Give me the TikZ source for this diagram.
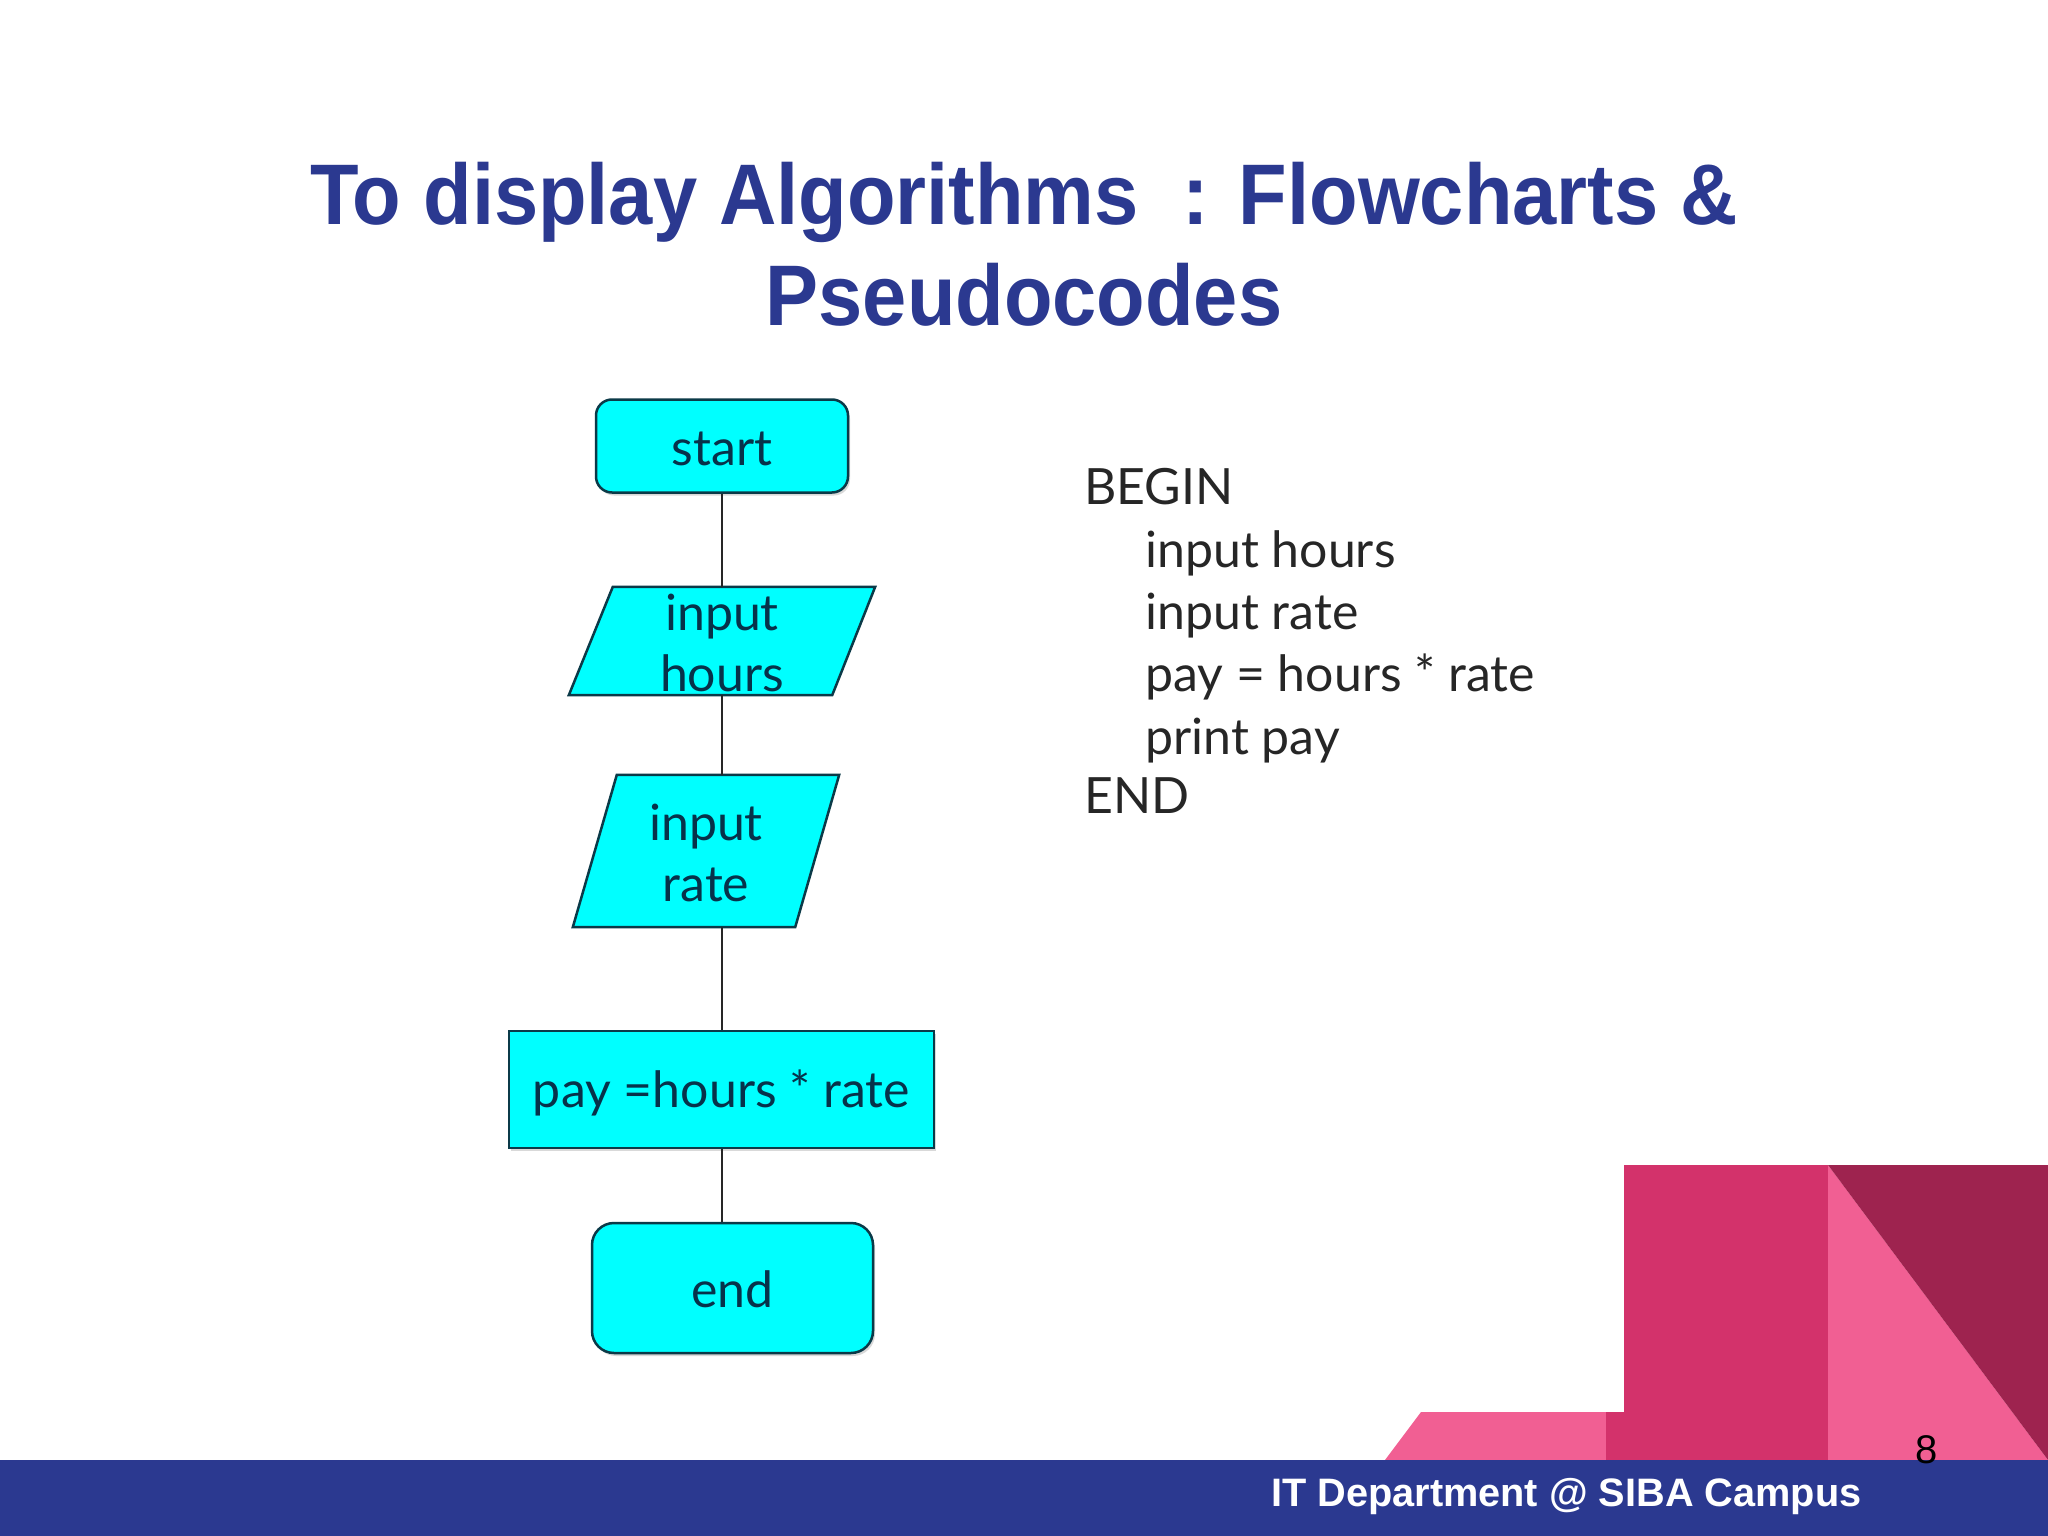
\documentclass[tikz,border=0pt]{standalone}
\usepackage{fontspec}
\setmainfont{Lato}
\newfontfamily\headfont{Liberation Sans}
\newfontfamily\titlefont[FakeStretch=0.924]{Liberation Sans}
\usetikzlibrary{shadows}
\definecolor{navy}{HTML}{2B3990}
\definecolor{cyanfill}{HTML}{00FFFF}
\definecolor{boxline}{HTML}{0B3A48}
\definecolor{inktext}{HTML}{07324A}
\definecolor{pinklight}{HTML}{F15F93}
\definecolor{pinkmid}{HTML}{D3326B}
\definecolor{pinkdark}{HTML}{9E234F}
\tikzset{
  softshadow/.style={general shadow={shadow xshift=2pt,shadow yshift=-3pt,fill=black,opacity=.15}},
  flowbase/.style={draw=boxline,line width=2.5pt,fill=cyanfill,text=inktext,font=\fontsize{50}{61}\selectfont,inner sep=0pt,align=center},
  roundbox/.style={flowbase,softshadow,rounded corners=16pt},
  plainbox/.style={flowbase,softshadow},
  ghostbox/.style={inner sep=0pt,align=center,text=inktext,font=\fontsize{50}{61}\selectfont},
  slantshape/.style={draw=boxline,line width=2.5pt,fill=cyanfill},
  link/.style={draw=black!85,line width=2.5pt},
  codeline/.style={anchor=base west,inner sep=0pt,text=black!85,font=\fontsize{50}{50}\selectfont},
}
\begin{document}
\begin{tikzpicture}[x=1pt,y=-1pt]
\useasboundingbox (0,0) rectangle (2048,1536);
\fill[white] (0,0) rectangle (2048,1536);
% decoration
\fill[pinklight] (1385,1460) -- (1421,1412) -- (1620,1412) -- (1620,1460) -- cycle;
\fill[pinkmid] (1606,1412) -- (1624,1412) -- (1624,1165) -- (1828,1165) -- (1828,1460) -- (1606,1460) -- cycle;
\fill[pinklight] (1828,1165) -- (2048,1460) -- (1828,1460) -- cycle;
\fill[pinkdark] (1828,1165) -- (2048,1165) -- (2048,1460) -- cycle;
\fill[navy] (0,1460) rectangle (2048,1536);
% title
\node[inner sep=0pt,align=center,text=navy,font=\titlefont\bfseries\fontsize{86}{101}\selectfont] (title) at (1024,244) {To display Algorithms\ \ : Flowcharts \&\\Pseudocodes};
% flowchart
\node[roundbox,minimum width=252pt,minimum height=93pt] (start) at (722,446) {\raisebox{-19pt}[0pt][0pt]{start}};
\node[ghostbox,minimum width=306pt,minimum height=108pt] (inhours) at (722,641) {};
\node[ghostbox,minimum width=266pt,minimum height=152pt] (inrate) at (706,851) {};
\node[plainbox,minimum width=425pt,minimum height=117pt] (pay) at (721.5,1089.5) {\raisebox{-18pt}[0pt][0pt]{pay =hours * rate}};
\node[roundbox,rounded corners=22pt,minimum width=281pt,minimum height=130pt] (end) at (732.5,1288) {\raisebox{-19pt}[0pt][0pt]{end}};
\draw[slantshape] ([xshift=44pt]inhours.north west) -- (inhours.north east) -- ([xshift=-43pt]inhours.south east) -- (inhours.south west) -- cycle;
\draw[slantshape] ([xshift=44pt]inrate.north west) -- (inrate.north east) -- ([xshift=-44pt]inrate.south east) -- (inrate.south west) -- cycle;
\node[ghostbox] (hourstext) at ([yshift=-2pt]inhours.center) {input\\hours};
\node[ghostbox] (ratetext) at ([yshift=-2pt]inrate.center) {input\\rate};
\draw[link] (start.south) -- (start.south |- inhours.north);
\draw[link] (start.south |- inhours.south) -- (start.south |- inrate.north);
\draw[link] (start.south |- inrate.south) -- (start.south |- pay.north);
\draw[link] (start.south |- pay.south) -- (start.south |- end.north);
% pseudocode
\node[codeline] (c1) at (1084,504) {BEGIN};
\node[codeline] (c2) at (1145,567) {input hours};
\node[codeline] (c3) at (1145,629) {input rate};
\node[codeline] (c4) at (1145,691) {pay = hours * rate};
\node[codeline] (c5) at (1145,754) {print pay};
\node[codeline] (c6) at (1084,813) {END};
% footer
\node[anchor=base west,inner sep=0pt,text=white,font=\headfont\bfseries\fontsize{39.7}{40}\selectfont] (foot) at (1271,1506) {IT Department @ SIBA Campus};
\node[anchor=base,inner sep=0pt,text=black,font=\headfont\fontsize{40}{40}\selectfont] (num) at (1927,1463) {8};
\end{tikzpicture}
\end{document}
